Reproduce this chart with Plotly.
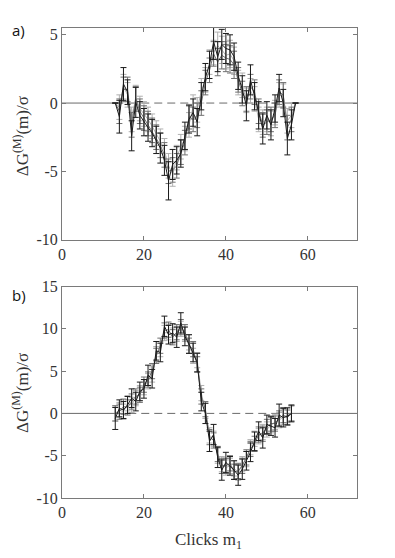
import plotly.graph_objects as go
from plotly.subplots import make_subplots

# panel a)
clicks_a = list(range(13, 58))
a_black = [0, -1.0, 1.4, 0.8, -2.4, 0.05, -0.9, -1.4, -1.8, -2.2, -2.7, -3.3, -4.2, -5.7, -4.5,
           -4.2, -3.7, -2.4, -1.2, -0.7, -1.4, 0.5, 1.9, 2.8, 4.5, 3.4, 4.3, 4.0, 3.9, 3.4,
           2.0, 1.0, -0.2, 1.7, 0.5, -0.9, -1.9, -0.9, -1.6, -0.4, 1.1, 0.0, -2.6, -1.6, 0]
a_dark = [0, -0.6, 1.0, 1.0, -1.6, 0.3, -0.6, -1.1, -1.5, -2.0, -2.5, -3.1, -3.8, -5.0, -4.9,
          -4.6, -3.6, -2.9, -1.0, -1.2, -0.9, 0.0, 1.5, 2.4, 3.6, 3.0, 3.5, 3.3, 3.2, 2.8,
          1.7, 0.7, 0.3, 1.2, 0.8, -0.6, -1.6, -1.4, -1.2, -0.9, 0.8, 0.6, -1.8, -1.2, 0]
a_light = [0, -0.3, 1.2, 0.6, -1.2, 0.4, -0.4, -0.8, -1.2, -1.7, -2.2, -2.8, -3.5, -4.6, -5.2,
           -4.0, -3.2, -2.6, -1.6, -0.3, -0.5, 0.9, 1.7, 3.0, 3.7, 4.2, 3.9, 3.5, 3.6, 3.1,
           1.5, 1.3, 0.2, 0.9, 0.3, -1.2, -1.4, -1.2, -1.5, -0.7, 0.6, 0.5, -1.3, -0.9, 0]
a_err_black = [0, 1.2, 1.2, 0.9, 1.1, 1.1, 1.0, 1.0, 1.0, 1.0, 1.0, 1.1, 1.1, 1.4, 1.1,
               1.0, 1.0, 1.0, 1.0, 1.0, 1.0, 1.0, 1.0, 1.0, 1.3, 1.1, 1.1, 1.1, 1.1, 1.0,
               1.0, 1.0, 1.1, 1.1, 1.0, 1.0, 1.1, 1.0, 1.1, 1.0, 1.0, 1.0, 1.2, 1.1, 0]
a_err_gray = [0, 0.9, 0.9, 0.9, 0.9, 0.9, 0.9, 0.9, 0.9, 0.9, 0.9, 0.9, 0.9, 0.9, 0.9,
              0.9, 0.9, 0.9, 0.9, 0.9, 0.9, 0.9, 0.9, 0.9, 0.9, 1.0, 1.0, 1.0, 1.0, 1.0,
              0.9, 0.9, 0.9, 0.9, 0.9, 0.9, 0.9, 0.9, 0.9, 0.9, 0.9, 0.9, 0.9, 0.9, 0]

# panel b)
clicks_b = list(range(13, 57))
b_black = [-0.6, 0.6, 0.4, 1.0, 1.8, 1.4, 2.6, 2.9, 4.5, 4.1, 7.4, 7.2, 10.3, 9.3, 9.5,
           9.0, 10.7, 9.1, 8.2, 7.2, 6.0, 1.4, 0.0, -3.3, -2.5, -5.2, -6.7, -5.8, -6.2, -6.7,
           -7.3, -6.6, -5.6, -4.6, -3.3, -2.1, -2.9, -1.3, -1.5, -1.7, -0.2, -0.5, -0.35, 0.0]
b_dark = [0, 0.2, 0.8, 0.7, 1.4, 2.0, 2.2, 3.4, 4.0, 5.0, 6.8, 8.0, 9.8, 9.9, 9.0,
          9.6, 10.2, 9.6, 8.0, 7.6, 5.8, 2.0, 0.5, -2.8, -3.2, -4.8, -6.2, -6.2, -5.9, -6.9,
          -6.8, -6.2, -5.2, -4.2, -3.6, -2.5, -2.4, -1.6, -1.2, -1.2, -0.6, -0.2, -0.5, 0]
b_light = [0, 0.4, 0.2, 1.2, 1.0, 1.8, 2.4, 3.1, 3.8, 4.6, 7.0, 7.6, 9.5, 9.6, 9.2,
           9.4, 10.0, 9.4, 8.4, 6.8, 6.3, 2.4, 0.3, -2.6, -3.0, -5.0, -6.0, -6.4, -6.2, -6.5,
           -7.0, -6.0, -5.4, -4.0, -3.0, -2.7, -2.2, -1.9, -1.4, -1.0, -0.8, -0.4, -0.2, 0]
b_err_black = [1.3, 1.0, 1.0, 1.0, 1.1, 1.1, 1.1, 1.1, 1.2, 1.1, 1.1, 1.1, 1.2, 1.1, 1.1,
               1.2, 1.2, 1.1, 1.1, 1.1, 1.1, 1.1, 1.2, 1.2, 1.2, 1.2, 1.2, 1.2, 1.1, 1.1,
               1.2, 1.2, 1.1, 1.1, 1.1, 1.1, 1.2, 1.1, 1.1, 1.1, 1.3, 1.1, 1.0, 1.0]
b_err_gray = [0.9] * 44

x_range = [0, 72]
x_ticks = [0, 20, 40, 60]
ya_range = [-10, 5.5]
ya_ticks = [-10, -5, 0, 5]
yb_range = [-10, 15]
yb_ticks = [-10, -5, 0, 5, 10, 15]

fig = make_subplots(rows=2, cols=1, vertical_spacing=0.1)

panels = [
    (1, clicks_a, [(a_light, a_err_gray, "#b0b0b0"), (a_dark, a_err_gray, "#707070"),
                   (a_black, a_err_black, "#1a1a1a")]),
    (2, clicks_b, [(b_light, b_err_gray, "#b0b0b0"), (b_dark, b_err_gray, "#707070"),
                   (b_black, b_err_black, "#1a1a1a")]),
]

for row, clicks, series in panels:
    # zero reference line: solid outside the data, dashed under it
    fig.add_trace(go.Scatter(x=[x_range[0], clicks[0]], y=[0, 0], mode="lines",
                             line=dict(color="#6a6a6a", width=1), showlegend=False,
                             hoverinfo="skip"), row=row, col=1)
    fig.add_trace(go.Scatter(x=[clicks[-1], x_range[1]], y=[0, 0], mode="lines",
                             line=dict(color="#6a6a6a", width=1), showlegend=False,
                             hoverinfo="skip"), row=row, col=1)
    fig.add_trace(go.Scatter(x=[clicks[0], clicks[-1]], y=[0, 0], mode="lines",
                             line=dict(color="#6a6a6a", width=1, dash="8px,5px"),
                             showlegend=False, hoverinfo="skip"), row=row, col=1)
    for vals, err, col in series:
        fig.add_trace(go.Scatter(
            x=clicks, y=vals, mode="lines",
            line=dict(color=col, width=1),
            error_y=dict(type="data", array=err, visible=True, color=col,
                         thickness=1, width=3),
            showlegend=False), row=row, col=1)

axis_style = dict(showline=True, linecolor="#7a7a7a", linewidth=1, mirror="ticks",
                  ticks="inside", ticklen=4, tickcolor="#7a7a7a", showgrid=False,
                  zeroline=False, tickfont=dict(family="Liberation Serif", size=16,
                                                color="#333333"))

for row in (1, 2):
    fig.update_xaxes(range=x_range, tickvals=x_ticks, ticktext=[str(t) for t in x_ticks],
                     row=row, col=1, **axis_style)
fig.update_yaxes(range=ya_range, tickvals=ya_ticks, ticktext=[str(t) for t in ya_ticks],
                 row=1, col=1, **axis_style)
fig.update_yaxes(range=yb_range, tickvals=yb_ticks, ticktext=[str(t) for t in yb_ticks],
                 row=2, col=1, **axis_style)

fig.update_layout(
    width=387, height=550,
    margin=dict(l=54, r=38, t=14, b=60),
    font=dict(family="Liberation Serif"),
    paper_bgcolor="white", plot_bgcolor="white",
    xaxis=dict(domain=[0, 1]), yaxis=dict(domain=[0.55, 1.0]),
    yaxis2=dict(domain=[0, 0.45]),
)

ytitle = "ΔG<sup>(M)</sup>(m)/σ"
serif = dict(family="Liberation Serif", size=17, color="#333333")
sans = dict(family="Open Sans", size=15, color="#111111")
fig.add_annotation(text=ytitle, xref="paper", yref="paper", x=-0.14, y=0.769,
                   textangle=-90, showarrow=False, font=serif, xanchor="center",
                   yanchor="middle")
fig.add_annotation(text=ytitle, xref="paper", yref="paper", x=-0.14, y=0.223,
                   textangle=-90, showarrow=False, font=serif, xanchor="center",
                   yanchor="middle")
fig.add_annotation(text="Clicks m<sub>1</sub>", xref="paper", yref="paper", x=0.495, y=-0.064,
                   showarrow=False, font=serif, xanchor="center", yanchor="top")
fig.add_annotation(text="a)", xref="paper", yref="paper", x=-0.176, y=1.021,
                   showarrow=False, font=sans, xanchor="left", yanchor="top")
fig.add_annotation(text="b)", xref="paper", yref="paper", x=-0.176, y=0.458,
                   showarrow=False, font=sans, xanchor="left", yanchor="top")

fig.write_html("out.html")
